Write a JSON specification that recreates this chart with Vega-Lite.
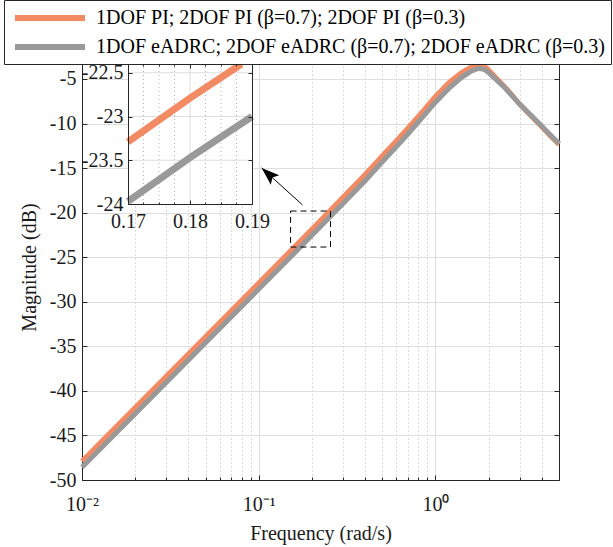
{
  "$schema": "https://vega.github.io/schema/vega-lite/v6.json",
  "width": 477,
  "height": 426,
  "autosize": {"type": "none"},
  "padding": {"left": 82, "top": 54, "right": 54, "bottom": 67},
  "background": "white",
  "config": {
    "view": {"stroke": null},
    "axis": {
      "labelFont": "Liberation Serif", "labelFontSize": 20, "labelColor": "#1a1a1a",
      "titleFont": "Liberation Serif", "titleFontSize": 20, "titleFontWeight": "normal", "titleColor": "#1a1a1a",
      "domainColor": "#262626", "domainWidth": 1, "tickColor": "#262626", "tickWidth": 1,
      "gridColor": "#dedede", "gridOpacity": 1, "gridWidth": 1,
      "labelFlush": false, "labelOverlap": false, "labelBound": false
    }
  },
  "datasets": {
    "pi": [
      {"w": 0.01, "db": -47.9}, {"w": 0.02, "db": -41.88}, {"w": 0.05, "db": -33.92}, {"w": 0.1, "db": -27.9},
      {"w": 0.2, "db": -21.87}, {"w": 0.3, "db": -18.28}, {"w": 0.4, "db": -15.72}, {"w": 0.5, "db": -13.65},
      {"w": 0.6, "db": -11.95}, {"w": 0.7, "db": -10.5}, {"w": 0.85, "db": -8.6}, {"w": 1, "db": -6.95},
      {"w": 1.2, "db": -5.35}, {"w": 1.4, "db": -4.3}, {"w": 1.6, "db": -3.65}, {"w": 1.77, "db": -3.4},
      {"w": 1.9, "db": -3.6}, {"w": 2, "db": -4.0}, {"w": 2.2, "db": -4.85}, {"w": 2.5, "db": -6.0},
      {"w": 3, "db": -7.85}, {"w": 3.5, "db": -9.2}, {"w": 4, "db": -10.4}, {"w": 4.5, "db": -11.45}, {"w": 5, "db": -12.35}
    ],
    "adrc": [
      {"w": 0.01, "db": -48.58}, {"w": 0.02, "db": -42.56}, {"w": 0.05, "db": -34.6}, {"w": 0.1, "db": -28.58},
      {"w": 0.2, "db": -22.55}, {"w": 0.3, "db": -18.97}, {"w": 0.4, "db": -16.42}, {"w": 0.5, "db": -14.3},
      {"w": 0.6, "db": -12.62}, {"w": 0.7, "db": -11.15}, {"w": 0.85, "db": -9.22}, {"w": 1, "db": -7.6},
      {"w": 1.2, "db": -6.0}, {"w": 1.4, "db": -4.85}, {"w": 1.6, "db": -4.1}, {"w": 1.77, "db": -3.8},
      {"w": 1.9, "db": -3.95}, {"w": 2, "db": -4.3}, {"w": 2.2, "db": -5.05}, {"w": 2.5, "db": -6.1},
      {"w": 3, "db": -7.85}, {"w": 3.5, "db": -9.15}, {"w": 4, "db": -10.3}, {"w": 4.5, "db": -11.35}, {"w": 5, "db": -12.25}
    ],
    "pi_in": [{"w": 0.17, "db": -23.29}, {"w": 0.18, "db": -22.79}, {"w": 0.1883, "db": -22.4}],
    "adrc_in": [{"w": 0.17, "db": -23.97}, {"w": 0.18, "db": -23.47}, {"w": 0.19, "db": -23.0}],
    "vminor": [{"v": 0.1725}, {"v": 0.175}, {"v": 0.1775}, {"v": 0.1825}, {"v": 0.185}, {"v": 0.1875}],
    "vmajor": [{"v": 0.18}],
    "hmajor": [{"v": -23.5}, {"v": -23}, {"v": -22.5}],
    "box": [{"xa": 0.1514, "xb": 0.2547, "ya": -23.86, "yb": -19.82}],
    "arrow": [{"xa": 0.177, "ya": -19.14, "xb": 0.1039, "yb": -14.99}]
  },
  "layer": [
    {
      "layer": [
        {
          "data": {"name": "pi"},
          "mark": {"type": "line", "strokeWidth": 5, "strokeCap": "butt"},
          "encoding": {
            "x": {"field": "w", "type": "quantitative", "scale": {"type": "log", "domain": [0.01, 5], "nice": false},
              "axis": {"orient": "bottom", "values": [0.01, 0.1, 1], "labelExpr": "datum.value < 0.05 ? '10⁻²' : datum.value < 0.5 ? '10⁻¹' : '10⁰'",
                "ticks": false, "grid": true, "domain": true, "title": "Frequency (rad/s)", "labelPadding": 14, "titlePadding": 9}},
            "y": {"field": "db", "type": "quantitative", "scale": {"domain": [-50, -2.2], "nice": false, "zero": false},
              "axis": {"orient": "left", "values": [-50, -45, -40, -35, -30, -25, -20, -15, -10, -5], "labelExpr": "'' + datum.value",
                "ticks": false, "grid": true, "domain": true, "title": "Magnitude (dB)", "labelPadding": 6, "titlePadding": 10}},
            "color": {"field": "s", "type": "nominal", "datum": "PI",
              "scale": {"domain": ["PI", "ADRC"], "range": ["#F28B64", "#999999"]},
              "legend": {"orient": "none", "legendX": -78, "legendY": -54, "title": null, "symbolType": "M-0.7,0L6.3,0",
                "symbolSize": 400, "symbolStrokeWidth": 6, "labelFont": "Liberation Serif", "labelFontSize": 20,
                "labelColor": "#000000", "labelLimit": 1000, "padding": 5, "rowPadding": 4, "labelOffset": 61,
                "strokeColor": "#262626", "fillColor": "white",
                "labelExpr": "datum.label == 'PI' ? '1DOF PI; 2DOF PI (β=0.7); 2DOF PI (β=0.3)' : '1DOF eADRC; 2DOF eADRC (β=0.7); 2DOF eADRC (β=0.3)'"}}
          }
        },
        {
          "data": {"name": "adrc"},
          "mark": {"type": "line", "strokeWidth": 5, "strokeCap": "butt", "color": "#999999"},
          "encoding": {
            "x": {"field": "w", "type": "quantitative", "scale": {"type": "log", "domain": [0.01, 5], "nice": false},
              "axis": {"orient": "bottom", "values": [0.01, 0.1, 1], "labels": false, "domain": false, "grid": false, "ticks": true, "tickSize": -5, "title": null}},
            "y": {"field": "db", "type": "quantitative", "scale": {"domain": [-50, -2.2], "nice": false, "zero": false},
              "axis": {"orient": "left", "values": [-50, -45, -40, -35, -30, -25, -20, -15, -10, -5], "labels": false, "domain": false, "grid": false, "ticks": true, "tickSize": -5, "title": null}}
          }
        },
        {
          "data": {"name": "box"},
          "mark": {"type": "rect", "fillOpacity": 0, "stroke": "#000000", "strokeWidth": 1, "strokeDash": [6, 4]},
          "encoding": {
            "x": {"field": "xa", "type": "quantitative", "scale": {"type": "log", "domain": [0.01, 5], "nice": false},
              "axis": {"orient": "bottom", "values": [0.02, 0.03, 0.04, 0.05, 0.06, 0.07, 0.08, 0.09, 0.2, 0.3, 0.4, 0.5, 0.6, 0.7, 0.8, 0.9, 2, 3, 4],
                "labels": false, "domain": false, "grid": true, "gridDash": [1, 3], "gridColor": "#b4b4b4", "ticks": true, "tickSize": -3, "title": null}},
            "x2": {"field": "xb"},
            "y": {"field": "ya", "type": "quantitative", "scale": {"domain": [-50, -2.2], "nice": false, "zero": false},
              "axis": {"orient": "right", "values": [-50, -45, -40, -35, -30, -25, -20, -15, -10, -5], "labels": false, "domain": true, "grid": false, "ticks": true, "tickSize": -5, "title": null}},
            "y2": {"field": "yb"}
          }
        },
        {
          "data": {"name": "arrow"},
          "mark": {"type": "rule", "color": "#000000", "strokeWidth": 1},
          "encoding": {
            "x": {"field": "xa", "type": "quantitative", "scale": {"type": "log", "domain": [0.01, 5], "nice": false},
              "axis": {"orient": "top", "values": [0.01, 0.1, 1], "labels": false, "domain": true, "grid": false, "ticks": true, "tickSize": -5, "title": null}},
            "x2": {"field": "xb"},
            "y": {"field": "ya", "type": "quantitative", "scale": {"domain": [-50, -2.2], "nice": false, "zero": false}, "axis": null},
            "y2": {"field": "yb"}
          }
        },
        {
          "data": {"name": "arrow"},
          "mark": {"type": "point", "shape": "M0,0L0.7,2L0,1.6L-0.7,2Z", "filled": true, "color": "#000000", "opacity": 1, "size": 324, "angle": -48},
          "encoding": {
            "x": {"field": "xb", "type": "quantitative", "scale": {"type": "log", "domain": [0.01, 5], "nice": false},
              "axis": {"orient": "top", "values": [0.02, 0.03, 0.04, 0.05, 0.06, 0.07, 0.08, 0.09, 0.2, 0.3, 0.4, 0.5, 0.6, 0.7, 0.8, 0.9, 2, 3, 4],
                "labels": false, "domain": false, "grid": false, "ticks": true, "tickSize": -3, "title": null}},
            "y": {"field": "yb", "type": "quantitative", "scale": {"domain": [-50, -2.2], "nice": false, "zero": false}, "axis": null}
          }
        }
      ],
      "resolve": {"axis": {"x": "independent", "y": "independent"}}
    },
    {
      "layer": [
        {
          "data": {"values": [{}]},
          "mark": {"type": "rect", "fill": "white", "stroke": null},
          "encoding": {
            "x": {"datum": 0.17, "type": "quantitative", "scale": {"domain": [0.17, 0.19], "range": [46, 170], "nice": false, "zero": false},
              "axis": {"orient": "bottom", "offset": -276, "values": [0.17, 0.18, 0.19], "labelExpr": "'' + datum.value", "ticks": false, "domain": true, "grid": false, "labelPadding": 7, "title": null, "zindex": 1}},
            "x2": {"datum": 0.19},
            "y": {"datum": -24, "type": "quantitative", "scale": {"domain": [-24, -22.4], "range": [150, 10], "nice": false, "zero": false},
              "axis": {"orient": "left", "offset": -46, "values": [-24, -23.5, -23, -22.5], "labelExpr": "'' + datum.value", "ticks": false, "domain": true, "grid": false, "labelPadding": 5, "title": null, "zindex": 1}},
            "y2": {"datum": -22.4}
          }
        },
        {
          "data": {"name": "vminor"},
          "mark": {"type": "rule", "color": "#b4b4b4", "strokeWidth": 1, "strokeDash": [1, 3]},
          "encoding": {
            "x": {"field": "v", "type": "quantitative", "scale": {"domain": [0.17, 0.19], "range": [46, 170], "nice": false, "zero": false},
              "axis": {"orient": "top", "offset": -10, "values": [0.17, 0.18, 0.19], "labels": false, "domain": true, "grid": false, "ticks": true, "tickSize": -4, "title": null, "zindex": 1}},
            "y": {"datum": -24, "type": "quantitative", "scale": {"domain": [-24, -22.4], "range": [150, 10], "nice": false, "zero": false},
              "axis": {"orient": "right", "offset": -307, "values": [-24, -23.5, -23, -22.5], "labels": false, "domain": true, "grid": false, "ticks": true, "tickSize": -4, "title": null, "zindex": 1}},
            "y2": {"datum": -22.4}
          }
        },
        {
          "data": {"name": "vmajor"},
          "mark": {"type": "rule", "color": "#dedede", "strokeWidth": 1},
          "encoding": {
            "x": {"field": "v", "type": "quantitative", "scale": {"domain": [0.17, 0.19], "range": [46, 170], "nice": false, "zero": false},
              "axis": {"orient": "bottom", "offset": -276, "values": [0.17, 0.18, 0.19], "labels": false, "domain": false, "grid": false, "ticks": true, "tickSize": -4, "title": null, "zindex": 1}},
            "y": {"datum": -24, "type": "quantitative", "scale": {"domain": [-24, -22.4], "range": [150, 10], "nice": false, "zero": false},
              "axis": {"orient": "left", "offset": -46, "values": [-24, -23.5, -23, -22.5], "labels": false, "domain": false, "grid": false, "ticks": true, "tickSize": -4, "title": null, "zindex": 1}},
            "y2": {"datum": -22.4}
          }
        },
        {
          "data": {"name": "hmajor"},
          "mark": {"type": "rule", "color": "#dedede", "strokeWidth": 1},
          "encoding": {
            "x": {"datum": 0.17, "type": "quantitative", "scale": {"domain": [0.17, 0.19], "range": [46, 170], "nice": false, "zero": false},
              "axis": {"orient": "bottom", "offset": -276, "values": [0.1725, 0.175, 0.1775, 0.1825, 0.185, 0.1875], "labels": false, "domain": false, "grid": false, "ticks": true, "tickSize": -2, "title": null, "zindex": 1}},
            "x2": {"datum": 0.19},
            "y": {"field": "v", "type": "quantitative", "scale": {"domain": [-24, -22.4], "range": [150, 10], "nice": false, "zero": false}, "axis": null}
          }
        },
        {
          "data": {"name": "pi_in"},
          "mark": {"type": "line", "strokeWidth": 7, "strokeCap": "butt", "color": "#F28B64"},
          "encoding": {
            "x": {"field": "w", "type": "quantitative", "scale": {"domain": [0.17, 0.19], "range": [46, 170], "nice": false, "zero": false},
              "axis": {"orient": "top", "offset": -10, "values": [0.1725, 0.175, 0.1775, 0.1825, 0.185, 0.1875], "labels": false, "domain": false, "grid": false, "ticks": true, "tickSize": -2, "title": null, "zindex": 1}},
            "y": {"field": "db", "type": "quantitative", "scale": {"domain": [-24, -22.4], "range": [150, 10], "nice": false, "zero": false}, "axis": null}
          }
        },
        {
          "data": {"name": "adrc_in"},
          "mark": {"type": "line", "strokeWidth": 7, "strokeCap": "butt", "color": "#999999"},
          "encoding": {
            "x": {"field": "w", "type": "quantitative", "scale": {"domain": [0.17, 0.19], "range": [46, 170], "nice": false, "zero": false}, "axis": null},
            "y": {"field": "db", "type": "quantitative", "scale": {"domain": [-24, -22.4], "range": [150, 10], "nice": false, "zero": false}, "axis": null}
          }
        }
      ],
      "resolve": {"axis": {"x": "independent", "y": "independent"}}
    }
  ],
  "resolve": {"scale": {"x": "independent", "y": "independent"}}
}
